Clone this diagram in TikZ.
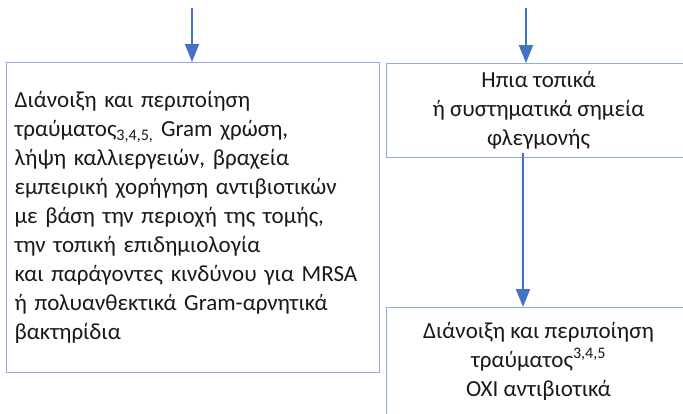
\documentclass[tikz,border=0pt]{standalone}
\usepackage{fontspec}
\setmainfont{Carlito}
\usetikzlibrary{arrows.meta}
\definecolor{flowblue}{RGB}{68,114,196}
\definecolor{boxline}{RGB}{143,170,220}
\begin{document}
\begin{tikzpicture}[x=1pt,y=-1pt,
  box/.style={draw=boxline,line width=1.1pt,inner sep=0pt,fill=none,
    font=\fontsize{23}{29}\selectfont,text=black!90},
  flow/.style={draw=flowblue,line width=2pt,
    -{Triangle[width=14pt,length=18pt]}}]
\useasboundingbox (0,0) rectangle (683,413);
% left branch: incision and drainage with empiric antibiotics
\node[box,minimum width=373pt,minimum height=310pt,anchor=north west,
  align=left,text width=357pt] (left) at (6,62)
  {Διάνοιξη και περιποίηση\\
   τραύματος\textsubscript{3,4,5,} Gram χρώση,\\
   λήψη καλλιεργειών, βραχεία\\
   εμπειρική χορήγηση αντιβιοτικών\\
   με βάση την περιοχή της τομής,\\
   την τοπική επιδημιολογία\\
   και παράγοντες κινδύνου για MRSA\\
   ή πολυανθεκτικά Gram-αρνητικά\\
   βακτηρίδια};
% right branch: mild signs
\node[box,minimum width=304pt,minimum height=94pt,anchor=north west,
  align=center] (mild) at (386,63)
  {Ηπια τοπικά\\ ή συστηματικά σημεία\\ φλεγμονής};
\node[box,minimum width=304pt,minimum height=108pt,anchor=north west,
  align=center] (noabx) at (386,307)
  {Διάνοιξη και περιποίηση\\
   τραύματος\textsuperscript{3,4,5}\\ ΟΧΙ αντιβιοτικά};
% incoming arrows and connector
\coordinate (inL) at (192,8);
\coordinate (inR) at (526,8);
\draw[flow] (inL) -- (inL |- left.north);
\draw[flow] (inR) -- (inR |- mild.north);
\draw[flow] ([xshift=-3pt,yshift=5pt]inR |- mild.south) -- ([xshift=-3pt]inR |- noabx.north);
\end{tikzpicture}
\end{document}
